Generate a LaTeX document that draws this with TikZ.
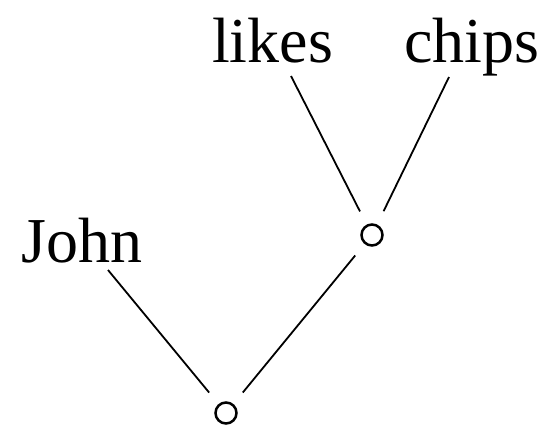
\documentclass[tikz,border=0pt]{standalone}
\usepackage{fontspec}
\setmainfont{Liberation Serif}
\begin{document}
\begin{tikzpicture}[x=1pt,y=-1pt,
  word/.style={anchor=base west,inner sep=0pt,font=\fontsize{64}{70}\selectfont},
  dot/.style={circle,draw,line width=2.5pt,minimum size=21pt,inner sep=0pt,outer sep=16pt},
  edge/.style={line width=1.8pt}]
\useasboundingbox (0,0) rectangle (544,429);
\node[word] (john) at (21,262) {John};
\node[word] (likes) at (212,62) {likes};
\node[word] (chips) at (404,62) {chips};
\node[dot] (c0) at (226,413) {};
\node[dot] (c1) at (372,235) {};
\coordinate (jl) at (108,270);
\coordinate (ll) at (291,76);
\coordinate (cl) at (449,77);
\draw[edge] (c0) -- (jl);
\draw[edge] (c0) -- (c1);
\draw[edge] (c1) -- (ll);
\draw[edge] (c1) -- (cl);
\end{tikzpicture}
\end{document}
